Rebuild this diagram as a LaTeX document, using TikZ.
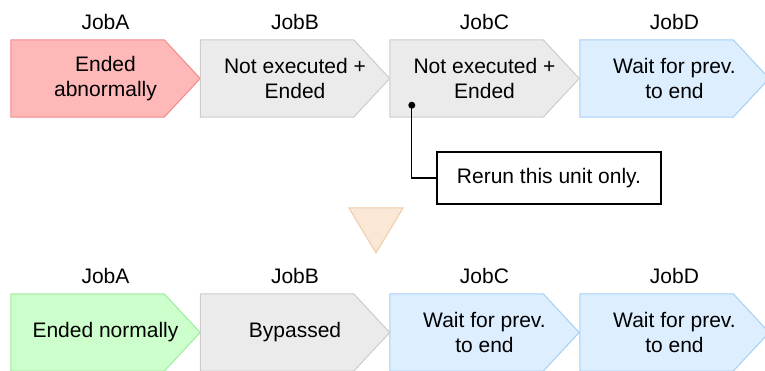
\documentclass[tikz,border=0pt]{standalone}
\usepackage{fontspec}
\setmainfont{Liberation Sans}
\usetikzlibrary{positioning,backgrounds}

\definecolor{failfill}{HTML}{FFB8B8}
\definecolor{faildraw}{HTML}{F28A8A}
\definecolor{okfill}{HTML}{CCFFCC}
\definecolor{okdraw}{HTML}{9DEB9D}
\definecolor{idlefill}{HTML}{EBEBEB}
\definecolor{idledraw}{HTML}{CCCCCC}
\definecolor{waitfill}{HTML}{DDEEFF}
\definecolor{waitdraw}{HTML}{A6CFF2}
\definecolor{turnfill}{HTML}{FAE7D6}
\definecolor{turndraw}{HTML}{F1CBA6}

\tikzset{
  jobstep/.style={minimum width=189pt, minimum height=77pt, inner sep=0pt,
    align=center, font=\fontsize{21}{25}\selectfont, text=black},
  joblabel/.style={inner sep=0pt, font=\fontsize{21}{25}\selectfont, text=black},
  failed/.style={fill=failfill, draw=faildraw, line width=1pt},
  normal/.style={fill=okfill, draw=okdraw, line width=1pt},
  idle/.style={fill=idlefill, draw=idledraw, line width=1pt},
  waiting/.style={fill=waitfill, draw=waitdraw, line width=1pt},
  note/.style={draw, line width=1.2pt, minimum width=224pt, minimum height=52pt,
    inner sep=0pt, font=\fontsize{21}{25}\selectfont, text=black}
}

\begin{document}
\begin{tikzpicture}[x=1pt,y=-1pt]
    \useasboundingbox (0,0) rectangle (765,371);
    \clip (0,0) rectangle (765,371);
    % Before rerun
    \node[jobstep] (a1) at (105.5,78.5) {Ended\\abnormally};
    \node[jobstep] (b1) at (295,78.5) {Not executed +\\Ended};
    \node[jobstep] (c1) at (484.5,78.5) {Not executed +\\Ended};
    \node[jobstep] (d1) at (674.5,78.5) {Wait for prev.\\to end};
    % After rerun
    \node[jobstep] (a2) at (105.5,332.5) {Ended normally};
    \node[jobstep] (b2) at (295,332.5) {Bypassed};
    \node[jobstep] (c2) at (484.5,332.5) {Wait for prev.\\to end};
    \node[jobstep] (d2) at (674.5,332.5) {Wait for prev.\\to end};

    % Job names
    \foreach \n/\t in {a1/JobA, b1/JobB, c1/JobC, d1/JobD, a2/JobA, b2/JobB, c2/JobC, d2/JobD}
        \node[joblabel, above=10pt of \n] (l\n) {\t};

    % Arrow shapes behind the texts
    \begin{scope}[on background layer]
        \foreach \n/\s in {a1/failed, b1/idle, c1/idle, d1/waiting, a2/normal, b2/idle, c2/waiting, d2/waiting}
            \draw[\s] (\n.north west) -- ([xshift=-36pt]\n.north east) -- (\n.east)
                -- ([xshift=-36pt]\n.south east) -- (\n.south west) -- cycle;
    \end{scope}

    % Callout
    \node[note] (msg) at (549,178) {Rerun this unit only.};
    \coordinate (pin) at ([xshift=22pt,yshift=12pt]c1.south west);
    \fill (pin) circle (3.5pt);
    \draw[line width=1.2pt] (pin) |- (msg.west);

    % Turn marker
    \draw[fill=turnfill, draw=turndraw, line width=1pt] (349,208) -- (403,208) -- (376,253) -- cycle;
\end{tikzpicture}
\end{document}
